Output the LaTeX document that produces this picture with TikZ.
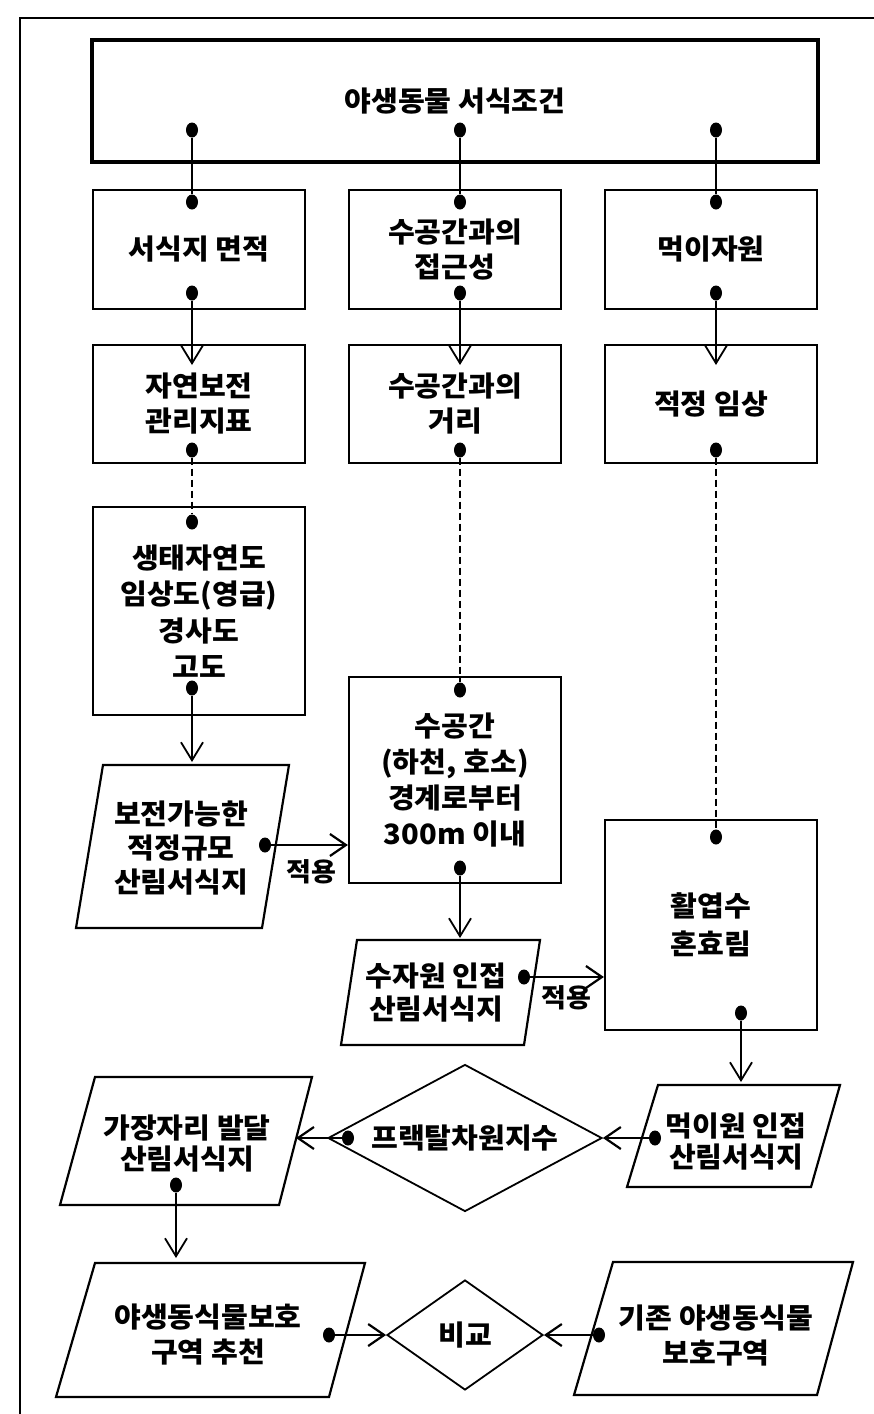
\documentclass[tikz,border=0pt]{standalone}
\usepackage{fontspec}
\newfontfamily\kr{Noto Sans CJK KR}[FakeStretch=1.04]
\usetikzlibrary{arrows.meta,shapes.geometric}
\begin{document}
\begin{tikzpicture}[x=1pt,y=-1pt,
  txt/.style={font=\kr\bfseries\fontsize{28}{35}\selectfont, align=center, inner sep=0pt},
  box/.style={txt, draw, line width=2.2pt, minimum width=212pt, minimum height=119pt},
  para/.style={draw, line width=2.2pt, line join=miter},
  dot/.style={ellipse, fill=black, inner sep=0pt, minimum width=12pt, minimum height=15pt},
  link/.style={line width=1.3pt},
  dlink/.style={line width=1.1pt, dash pattern=on 7pt off 4pt},
  arr/.style={link, -{Straight Barb[length=18pt,width=22pt,line width=1.8pt]}},
  harr/.style={line width=2.6pt, -{Straight Barb[length=16pt,width=22pt,line width=2.2pt]}},
  lab/.style={font=\kr\bfseries\fontsize{26}{28}\selectfont, inner sep=0pt},
  dia/.style={txt, draw, diamond, line width=1.8pt}
]
\useasboundingbox (0,0) rectangle (874,1414);
\draw[line width=2pt] (20,1414) -- (20,18) -- (874,18);

% top box
\node[box, line width=4.5pt, minimum width=726pt, minimum height=122pt] (top) at (455,101) {야생동물 서식조건};
\node[dot] (t1) at (192,130) {};
\node[dot] (t2) at (460,130) {};
\node[dot] (t3) at (716,130) {};

% row 2
\node[box] (a1) at (199,249.5) {서식지 면적};
\node[box] (a2) at (455,249.5) {수공간과의\\접근성};
\node[box] (a3) at (711,249.5) {먹이자원};
\node[dot] (a1i) at (192,202) {};
\node[dot] (a2i) at (460,202) {};
\node[dot] (a3i) at (716,202) {};
\node[dot] (a1o) at (192,293) {};
\node[dot] (a2o) at (460,293) {};
\node[dot] (a3o) at (716,293) {};

% row 3
\node[box, minimum height=118pt] (b1) at (199,404) {자연보전\\관리지표};
\node[box, minimum height=118pt] (b2) at (455,404) {수공간과의\\거리};
\node[box, minimum height=118pt] (b3) at (711,404) {적정 임상};
\coordinate (b1t) at (192,365);
\coordinate (b2t) at (460,365);
\coordinate (b3t) at (716,365);
\node[dot] (b1o) at (192,450) {};
\node[dot] (b2o) at (460,450) {};
\node[dot] (b3o) at (716,450) {};

% row 4
\node[box, minimum height=208pt, font=\kr\bfseries\fontsize{28}{36.5}\selectfont] (c1) at (199,611) {생태자연도\\임상도(영급)\\경사도\\고도};
\node[box, minimum height=206pt, font=\kr\bfseries\fontsize{28}{36}\selectfont] (c2) at (455,780) {수공간\\(하천, 호소)\\경계로부터\\300m 이내};
\node[box, minimum height=210pt, font=\kr\bfseries\fontsize{28}{38}\selectfont] (c3) at (711,925) {활엽수\\혼효림};
\node[dot] (c1i) at (192,522) {};
\node[dot] (c1o) at (192,688) {};
\node[dot] (c2i) at (460,690) {};
\node[dot] (c2o) at (460,868) {};
\node[dot] (c3i) at (716,837) {};
\node[dot] (c3o) at (741,1013) {};
\coordinate (c1t) at (192,762);
\coordinate (c2t) at (460,938);
\coordinate (c3t) at (741,1082);

% parallelograms
\draw[para] (103,765) -- (289,765) -- (262,928) -- (76,928) -- cycle;
\node[txt, font=\kr\bfseries\fontsize{28}{34}\selectfont] (p1) at (181,848) {보전가능한\\적정규모\\산림서식지};
\node[dot] (p1d) at (265,845) {};

\draw[para] (357,940) -- (540,940) -- (524,1045) -- (341,1045) -- cycle;
\node[txt, font=\kr\bfseries\fontsize{28}{33}\selectfont] (p2) at (436,993) {수자원 인접\\산림서식지};
\node[dot] (p2d) at (524,977) {};

\draw[para] (658,1085) -- (840,1085) -- (811,1187) -- (627,1187) -- cycle;
\node[txt, font=\kr\bfseries\fontsize{28}{31}\selectfont] (p3) at (736,1142) {먹이원 인접\\산림서식지};
\node[dot] (p3d) at (655,1138) {};

\draw[para] (95,1077) -- (312,1077) -- (279,1205) -- (60,1205) -- cycle;
\node[txt, font=\kr\bfseries\fontsize{28}{31}\selectfont] (p4) at (187,1144) {가장자리 발달\\산림서식지};
\node[dot] (p4d) at (176,1185) {};
\coordinate (p4e) at (296,1138);
\coordinate (p4t) at (176,1258);

\draw[para] (95,1263) -- (365,1263) -- (329,1397) -- (56,1397) -- cycle;
\node[txt] (p5) at (208,1335) {야생동식물보호\\구역 추천};
\node[dot] (p5d) at (329,1335) {};

\draw[para] (613,1262) -- (853,1262) -- (817,1395) -- (574,1395) -- cycle;
\node[txt] (p6) at (716,1335) {기존 야생동식물\\보호구역};
\node[dot] (p6d) at (599,1335) {};

% diamonds
\node[dia, minimum width=274pt, minimum height=147pt, aspect=1.86] (f) at (465,1138) {프랙탈차원지수};
\node[dot] (fd) at (348,1138) {};
\node[dia, minimum width=156pt, minimum height=110pt, aspect=1.42] (g) at (465,1335) {비교};

% labels
\node[lab] (l1) at (311,872) {적용};
\node[lab] (l2) at (566,998) {적용};

% connectors
\draw[link] (t1) -- (a1i);
\draw[link] (t2) -- (a2i);
\draw[link] (t3) -- (a3i);
\draw[arr] (a1o) -- (b1t);
\draw[arr] (a2o) -- (b2t);
\draw[arr] (a3o) -- (b3t);
\draw[dlink] (b1o) -- (c1i);
\draw[dlink] (b2o) -- (c2i);
\draw[dlink] (b3o) -- (c3i);
\draw[arr] (c1o) -- (c1t);
\draw[arr] (c2o) -- (c2t);
\draw[arr] (c3o) -- (c3t);
\draw[harr] (p1d) -- (p1d -| c2.west);
\draw[harr] (p2d) -- (p2d -| c3.west);
\draw[harr] (p3d) -- (f.east);
\draw[harr] (fd) -- (p4e);
\draw[arr] (p4d) -- (p4t);
\draw[harr] (p5d) -- (g.west);
\draw[harr] (p6d) -- (g.east);
\end{tikzpicture}
\end{document}
